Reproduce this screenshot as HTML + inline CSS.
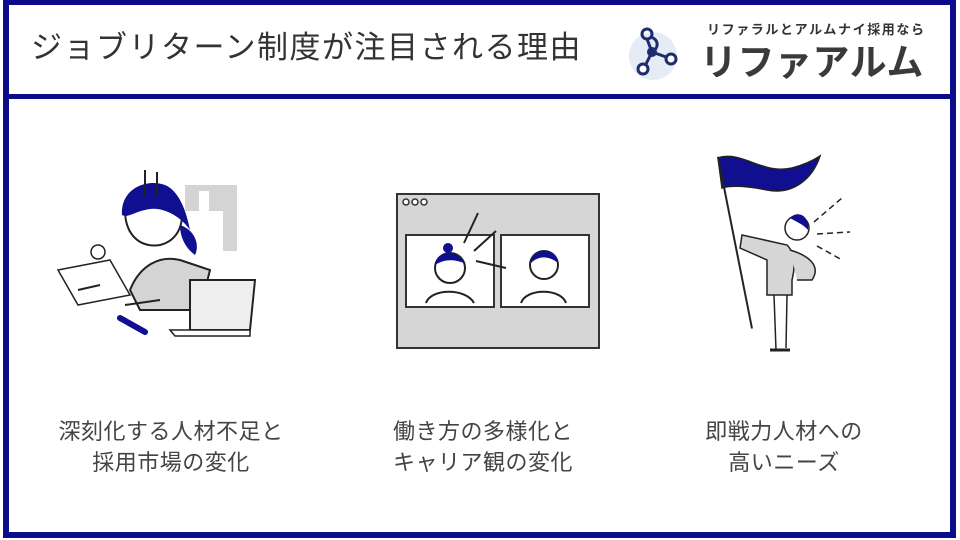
<!DOCTYPE html>
<html><head><meta charset="utf-8"><style>
*{margin:0;padding:0;box-sizing:border-box}
body{width:960px;height:540px;background:#fff;position:relative;overflow:hidden;font-family:"Liberation Sans","Noto Sans CJK JP",sans-serif}
.frame{position:absolute;left:3px;top:0;width:953px;height:538px;border:6px solid #0c0c8a;border-top-width:5px}
.hline{position:absolute;left:3px;top:94px;width:953px;height:5px;background:#0c0c8a}
.title{position:absolute;left:31px;top:28px;font-size:31px;color:#333;white-space:nowrap;line-height:40px;letter-spacing:1.5px}
.sub{position:absolute;left:707px;top:19px;font-size:13px;font-weight:bold;color:#333;letter-spacing:1.6px;white-space:nowrap}
.big{position:absolute;left:700px;top:40px;font-size:37px;font-weight:bold;color:#3a3a3a;letter-spacing:0.5px;white-space:nowrap;line-height:46px}
.lab{position:absolute;width:320px;text-align:center;font-size:22px;line-height:31px;color:#444;letter-spacing:0.5px}
svg{position:absolute}
</style></head><body>
<div class="frame"></div><div class="hline"></div>
<div class="title">ジョブリターン制度が注目される理由</div>
<svg style="left:625px;top:22px" width="62" height="62" viewBox="0 0 62 62">
<circle cx="28" cy="34" r="24" fill="#e6ecf5"/>
<g stroke="#1d2d6e" stroke-width="3" fill="none">
<circle cx="22" cy="12" r="5"/><path d="M26 15 C34 18 34 26 27 30"/><line x1="22" y1="17" x2="27" y2="30"/>
<line x1="27" y1="30" x2="44" y2="36"/><line x1="27" y1="30" x2="20" y2="44"/>
<circle cx="46" cy="37" r="5" fill="#fff"/><circle cx="18" cy="47" r="5" fill="#fff"/></g>
<circle cx="27" cy="30" r="5" fill="#1d2d6e"/>
</svg>
<div class="sub">リファラルとアルムナイ採用なら</div>
<div class="big">リファアルム</div>

<!-- illustration 1 -->
<svg style="left:50px;top:170px" width="220" height="170" viewBox="0 0 220 170">
<path d="M135 15 h52 v66 h-14 v-40 h-14 v-20 h-10 v20 h-14z" fill="#d4d4d4"/>
<path d="M80 120 C90 95 110 85 130 90 L160 100 L150 140 L90 140z" fill="#d4d4d4" stroke="#222" stroke-width="2"/>
<path d="M75 40 C80 20 120 15 130 35 C135 50 130 70 110 75 C90 78 75 65 75 40z" fill="#fff" stroke="#222" stroke-width="2"/>
<path d="M72 45 C70 20 95 8 115 15 C132 22 138 50 140 60 C130 45 110 35 95 40 C85 42 78 48 72 45z" fill="#0f0f8f"/>
<path d="M130 55 C145 60 150 75 145 85 C138 80 130 70 130 55z" fill="#0f0f8f"/>
<line x1="95" y1="0" x2="95" y2="25" stroke="#222" stroke-width="2"/><line x1="107" y1="2" x2="107" y2="25" stroke="#222" stroke-width="2"/>
<path d="M8 100 L60 90 L80 125 L28 135z" fill="#fff" stroke="#222" stroke-width="1.5"/>
<path d="M28 120 L50 115" stroke="#222" stroke-width="2"/>
<path d="M75 135 L110 130" stroke="#222" stroke-width="2"/>
<path d="M70 148 L95 162" stroke="#0f0f8f" stroke-width="6" stroke-linecap="round"/>
<path d="M140 110 L205 110 L200 160 L140 160z" fill="#eee" stroke="#222" stroke-width="2"/>
<path d="M120 160 L200 160 L200 166 L125 166z" fill="#fff" stroke="#222" stroke-width="1.5"/>
<circle cx="48" cy="82" r="7" fill="#fff" stroke="#222" stroke-width="1.5"/>
</svg>

<!-- illustration 2 -->
<svg style="left:396px;top:193px" width="204" height="156" viewBox="0 0 204 156">
<rect x="1" y="1" width="202" height="154" fill="#d6d6d6" stroke="#333" stroke-width="2"/>
<circle cx="10" cy="9" r="3" fill="#fff" stroke="#333" stroke-width="1.5"/><circle cx="19" cy="9" r="3" fill="#fff" stroke="#333" stroke-width="1.5"/><circle cx="28" cy="9" r="3" fill="#fff" stroke="#333" stroke-width="1.5"/>
<rect x="10" y="42" width="88" height="72" fill="#fff" stroke="#333" stroke-width="2"/>
<rect x="105" y="42" width="88" height="72" fill="#fff" stroke="#333" stroke-width="2"/>
<circle cx="54" cy="75" r="15" fill="#fff" stroke="#222" stroke-width="2"/>
<path d="M39 72 C40 58 60 55 68 70 C58 66 48 66 39 72z" fill="#0f0f8f"/><circle cx="52" cy="55" r="5" fill="#0f0f8f"/>
<path d="M30 110 C35 95 70 95 78 110" fill="none" stroke="#222" stroke-width="2"/>
<circle cx="148" cy="72" r="14" fill="#fff" stroke="#222" stroke-width="2"/>
<path d="M135 70 C135 55 160 52 162 70 C152 62 142 63 135 70z" fill="#0f0f8f"/>
<path d="M125 110 C130 95 165 95 170 110" fill="none" stroke="#222" stroke-width="2"/>
<g stroke="#222" stroke-width="2"><line x1="82" y1="20" x2="68" y2="50"/><line x1="100" y1="38" x2="78" y2="58"/><line x1="80" y1="68" x2="110" y2="75"/></g>
</svg>

<!-- illustration 3 -->
<svg style="left:712px;top:150px" width="140" height="210" viewBox="0 0 140 210">
<path d="M6 8 C30 0 50 25 80 18 C95 14 105 8 108 6 C100 30 80 45 55 40 C35 36 20 35 10 38z" fill="#0f0f8f" stroke="#222" stroke-width="1.5"/>
<line x1="6" y1="8" x2="40" y2="210" stroke="#222" stroke-width="2" transform="scale(1,0.85)"/>
<path d="M30 85 L75 95 C80 100 85 110 80 130 L80 145 L55 145 L55 110 L28 98z" fill="#d6d6d6" stroke="#222" stroke-width="1.5"/>
<path d="M78 100 C95 105 110 115 100 130 L85 130" fill="#d6d6d6" stroke="#222" stroke-width="1.5"/>
<circle cx="85" cy="78" r="12" fill="#fff" stroke="#222" stroke-width="1.5"/>
<path d="M78 68 C85 60 98 65 96 80 C92 75 85 72 78 68z" fill="#0f0f8f"/>
<path d="M62 145 L64 200 M75 145 L74 198" stroke="#222" stroke-width="1.5"/>
<path d="M58 200 L78 200" stroke="#222" stroke-width="3"/>
<g stroke="#222" stroke-width="1.5" stroke-dasharray="6 4"><line x1="102" y1="72" x2="130" y2="48"/><line x1="105" y1="84" x2="138" y2="82"/><line x1="105" y1="96" x2="130" y2="110"/></g>
</svg>

<div class="lab" style="left:11px;top:416px">深刻化する人材不足と<br>採用市場の変化</div>
<div class="lab" style="left:323px;top:416px">働き方の多様化と<br>キャリア観の変化</div>
<div class="lab" style="left:624px;top:416px">即戦力人材への<br>高いニーズ</div>
</body></html>
